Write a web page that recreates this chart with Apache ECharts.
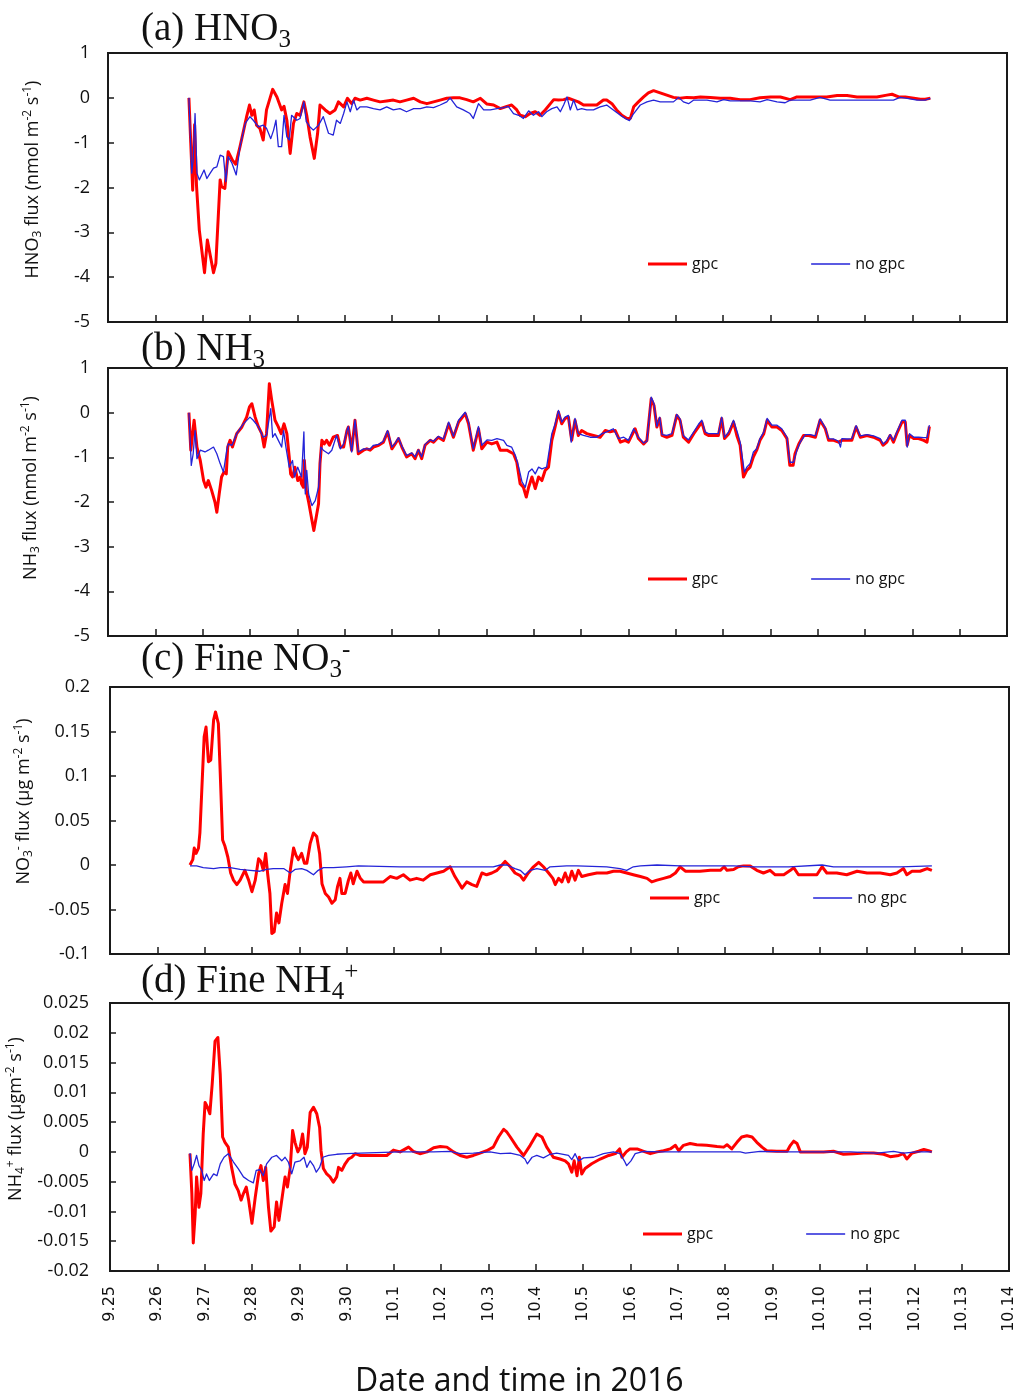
<!DOCTYPE html>
<html>
<head>
<meta charset="utf-8">
<script src="https://cdn.jsdelivr.net/npm/echarts@6/dist/echarts.min.js"></script>
<style>
  html, body { margin: 0; padding: 0; background: #ffffff; }
  #chart { width: 1023px; height: 1396px; }
</style>
</head>
<body>
<div id="chart"></div>
<script>
// Date tick labels; the x value of every point is days since 9.25 00:00
const dayTicks = ['9.25', '9.26', '9.27', '9.28', '9.29', '9.30', '10.1', '10.2', '10.3', '10.4',
  '10.5', '10.6', '10.7', '10.8', '10.9', '10.10', '10.11', '10.12', '10.13', '10.14'];

// (a) HNO3 flux, nmol m-2 s-1
const hno3Gpc = [[1.71,0],[1.79,-2.06],[1.83,-0.6],[1.87,-1.95],[1.93,-2.95],[2.04,-3.90],[2.10,-3.17],[2.23,-3.90],[2.28,-3.69],[2.37,-1.83],[2.40,-1.98],[2.47,-2.02],[2.54,-1.20],[2.63,-1.39],[2.70,-1.48],[2.79,-1.09],[2.93,-0.42],[2.99,-0.16],[3.04,-0.39],[3.09,-0.27],[3.14,-0.61],[3.21,-0.68],[3.28,-0.94],[3.35,-0.27],[3.48,0.19],[3.57,0.02],[3.67,-0.27],[3.72,-0.19],[3.78,-0.50],[3.85,-1.24],[3.92,-0.57],[3.99,-0.35],[4.06,-0.39],[4.14,-0.09],[4.20,-0.39],[4.27,-0.87],[4.36,-1.35],[4.43,-0.79],[4.48,-0.16],[4.59,-0.27],[4.69,-0.35],[4.80,-0.27],[4.87,-0.09],[4.98,-0.20],[5.06,-0.01],[5.15,-0.13],[5.22,-0.01],[5.33,-0.05],[5.47,-0.01],[5.61,-0.05],[5.75,-0.09],[5.89,-0.07],[6.03,-0.05],[6.17,-0.09],[6.31,-0.05],[6.46,-0.01],[6.60,-0.09],[6.74,-0.13],[6.88,-0.09],[7.02,-0.05],[7.16,-0.01],[7.30,0],[7.44,0],[7.58,-0.04],[7.72,-0.09],[7.87,-0.01],[8.01,-0.14],[8.15,-0.16],[8.29,-0.24],[8.43,-0.19],[8.53,-0.16],[8.64,-0.27],[8.71,-0.39],[8.82,-0.42],[8.92,-0.35],[9.03,-0.31],[9.13,-0.39],[9.24,-0.27],[9.35,-0.13],[9.42,-0.04],[9.52,-0.05],[9.63,-0.04],[9.73,-0.01],[9.84,-0.05],[9.94,-0.09],[10.05,-0.16],[10.19,-0.16],[10.33,-0.16],[10.47,-0.05],[10.54,-0.05],[10.65,-0.13],[10.75,-0.27],[10.86,-0.39],[10.97,-0.46],[11.04,-0.46],[11.11,-0.20],[11.21,-0.09],[11.32,0.02],[11.42,0.11],[11.53,0.16],[11.67,0.11],[11.81,0.06],[11.95,0.01],[12.09,-0.01],[12.23,0.01],[12.38,0],[12.52,0.02],[12.73,0.01],[12.94,-0.01],[13.15,-0.01],[13.36,-0.04],[13.57,-0.04],[13.78,0],[14.00,0.02],[14.21,0.02],[14.42,-0.04],[14.56,0.02],[14.77,0.02],[14.98,0.02],[15.19,0.02],[15.41,0.05],[15.62,0.05],[15.83,0.02],[16.04,0.02],[16.25,0.02],[16.46,0.06],[16.57,0.08],[16.71,0.02],[16.85,0.02],[17.03,-0.01],[17.17,-0.03],[17.27,-0.03],[17.38,-0.01]];
const hno3NoGpc = [[1.71,0],[1.77,-1.68],[1.80,-1.39],[1.84,-0.35],[1.88,-1.68],[1.93,-1.83],[1.98,-1.72],[2.03,-1.61],[2.09,-1.80],[2.16,-1.68],[2.23,-1.57],[2.30,-1.54],[2.37,-1.28],[2.44,-1.31],[2.49,-1.87],[2.54,-1.31],[2.62,-1.46],[2.71,-1.72],[2.79,-1.09],[2.90,-0.57],[3.00,-0.42],[3.07,-0.50],[3.18,-0.65],[3.28,-0.61],[3.35,-0.68],[3.44,-0.91],[3.50,-0.72],[3.55,-0.50],[3.60,-1.09],[3.67,-1.09],[3.72,-0.39],[3.78,-0.87],[3.83,-0.94],[3.88,-0.39],[3.99,-0.50],[4.06,-0.46],[4.14,-0.09],[4.19,-0.53],[4.27,-0.65],[4.34,-0.72],[4.45,-0.61],[4.55,-0.42],[4.66,-0.79],[4.76,-0.83],[4.83,-0.50],[4.91,-0.57],[4.98,-0.35],[5.05,-0.09],[5.12,-0.31],[5.19,-0.05],[5.26,-0.27],[5.33,-0.20],[5.47,-0.20],[5.61,-0.24],[5.75,-0.27],[5.89,-0.20],[6.03,-0.27],[6.17,-0.24],[6.31,-0.31],[6.46,-0.24],[6.60,-0.24],[6.74,-0.20],[6.88,-0.22],[7.02,-0.16],[7.16,-0.09],[7.23,0],[7.37,-0.20],[7.51,-0.27],[7.65,-0.35],[7.72,-0.46],[7.83,-0.13],[7.94,-0.27],[8.08,-0.27],[8.22,-0.24],[8.36,-0.22],[8.46,-0.19],[8.57,-0.35],[8.68,-0.39],[8.78,-0.46],[8.89,-0.29],[8.99,-0.39],[9.10,-0.31],[9.17,-0.42],[9.27,-0.31],[9.38,-0.24],[9.49,-0.20],[9.56,-0.31],[9.63,-0.16],[9.70,0.02],[9.77,-0.27],[9.84,-0.05],[9.92,-0.27],[10.01,-0.24],[10.12,-0.27],[10.26,-0.27],[10.40,-0.20],[10.54,-0.16],[10.68,-0.27],[10.83,-0.39],[10.93,-0.46],[11.02,-0.51],[11.11,-0.35],[11.25,-0.16],[11.39,-0.09],[11.53,-0.05],[11.67,-0.09],[11.81,-0.09],[11.95,-0.09],[12.06,0.01],[12.16,-0.09],[12.27,-0.13],[12.38,-0.05],[12.66,-0.05],[12.87,-0.09],[13.01,-0.04],[13.15,-0.07],[13.57,-0.07],[13.78,-0.09],[13.93,-0.04],[14.14,-0.09],[14.31,-0.11],[14.42,-0.05],[14.84,-0.05],[15.05,0.01],[15.26,-0.05],[16.04,-0.05],[16.60,-0.05],[16.74,0.01],[16.89,-0.01],[17.10,-0.05],[17.27,-0.05],[17.38,-0.01]];

// (b) NH3 flux, nmol m-2 s-1
const nh3Gpc = [[1.71,0],[1.75,-0.84],[1.82,-0.17],[1.88,-0.77],[1.95,-1.07],[2.02,-1.52],[2.07,-1.67],[2.12,-1.52],[2.19,-1.74],[2.26,-2.00],[2.30,-2.23],[2.35,-1.82],[2.40,-1.44],[2.45,-1.33],[2.50,-1.37],[2.53,-0.77],[2.58,-0.62],[2.63,-0.77],[2.72,-0.47],[2.83,-0.32],[2.93,-0.10],[2.99,0.13],[3.04,0.20],[3.11,-0.10],[3.18,-0.32],[3.25,-0.47],[3.30,-0.77],[3.35,-0.47],[3.41,0.65],[3.46,0.28],[3.53,-0.17],[3.60,-0.32],[3.66,-0.47],[3.72,-0.25],[3.78,-0.47],[3.83,-0.99],[3.86,-1.37],[3.90,-1.44],[3.95,-1.22],[4.01,-1.52],[4.06,-1.44],[4.09,-1.59],[4.13,-1.67],[4.15,-1.07],[4.19,-1.74],[4.24,-2.00],[4.31,-2.41],[4.35,-2.64],[4.40,-2.34],[4.45,-2.04],[4.48,-1.14],[4.52,-0.62],[4.57,-0.70],[4.62,-0.62],[4.68,-0.73],[4.76,-0.55],[4.85,-0.51],[4.91,-0.77],[4.98,-0.77],[5.05,-0.40],[5.08,-0.32],[5.15,-0.84],[5.22,-0.17],[5.29,-0.92],[5.40,-0.84],[5.47,-0.81],[5.54,-0.84],[5.61,-0.77],[5.72,-0.73],[5.82,-0.66],[5.91,-0.43],[6.00,-0.81],[6.07,-0.70],[6.14,-0.58],[6.21,-0.77],[6.31,-0.99],[6.42,-0.92],[6.49,-1.03],[6.56,-0.84],[6.63,-1.03],[6.70,-0.73],[6.81,-0.62],[6.88,-0.66],[6.98,-0.55],[7.09,-0.62],[7.20,-0.25],[7.30,-0.55],[7.41,-0.21],[7.55,-0.02],[7.62,-0.25],[7.72,-0.84],[7.83,-0.36],[7.90,-0.81],[8.01,-0.66],[8.11,-0.70],[8.22,-0.66],[8.29,-0.84],[8.43,-0.84],[8.57,-0.92],[8.64,-1.11],[8.71,-1.59],[8.78,-1.67],[8.84,-1.89],[8.89,-1.67],[8.96,-1.44],[9.03,-1.70],[9.10,-1.44],[9.17,-1.52],[9.24,-1.29],[9.31,-1.22],[9.38,-0.62],[9.45,-0.32],[9.52,0.01],[9.59,-0.25],[9.66,-0.13],[9.73,-0.10],[9.80,-0.62],[9.87,-0.17],[9.94,-0.51],[10.01,-0.40],[10.12,-0.47],[10.26,-0.51],[10.40,-0.55],[10.51,-0.40],[10.61,-0.43],[10.72,-0.40],[10.83,-0.66],[10.93,-0.62],[11.00,-0.66],[11.07,-0.51],[11.14,-0.36],[11.21,-0.58],[11.32,-0.70],[11.39,-0.62],[11.48,0.31],[11.54,0.16],[11.60,-0.32],[11.66,-0.13],[11.71,-0.51],[11.81,-0.55],[11.92,-0.51],[12.02,-0.06],[12.09,-0.17],[12.16,-0.55],[12.27,-0.66],[12.38,-0.47],[12.48,-0.32],[12.55,-0.21],[12.62,-0.47],[12.69,-0.51],[12.80,-0.51],[12.90,-0.51],[12.97,-0.13],[13.03,-0.58],[13.12,-0.47],[13.22,-0.21],[13.29,-0.51],[13.36,-0.73],[13.43,-1.44],[13.50,-1.29],[13.57,-1.22],[13.64,-0.99],[13.71,-0.84],[13.78,-0.62],[13.86,-0.47],[13.93,-0.17],[14.03,-0.32],[14.14,-0.32],[14.24,-0.40],[14.35,-0.58],[14.41,-1.18],[14.48,-1.18],[14.52,-0.92],[14.60,-0.70],[14.70,-0.51],[14.81,-0.51],[14.95,-0.55],[15.05,-0.17],[15.16,-0.36],[15.23,-0.62],[15.34,-0.62],[15.44,-0.66],[15.51,-0.62],[15.62,-0.62],[15.72,-0.62],[15.81,-0.32],[15.90,-0.55],[16.04,-0.51],[16.18,-0.55],[16.32,-0.62],[16.38,-0.73],[16.46,-0.66],[16.53,-0.51],[16.60,-0.66],[16.67,-0.47],[16.78,-0.21],[16.85,-0.21],[16.89,-0.73],[16.94,-0.51],[17.03,-0.58],[17.13,-0.58],[17.24,-0.62],[17.31,-0.66],[17.36,-0.31]];
const nh3NoGpc = [[1.71,0],[1.76,-1.18],[1.80,-0.92],[1.84,-0.40],[1.88,-1.03],[1.95,-0.84],[2.05,-0.88],[2.12,-0.84],[2.23,-0.77],[2.30,-0.92],[2.37,-1.14],[2.44,-1.33],[2.51,-0.84],[2.54,-0.70],[2.62,-0.73],[2.72,-0.47],[2.86,-0.25],[3.00,-0.10],[3.07,-0.17],[3.18,-0.32],[3.28,-0.55],[3.35,-0.51],[3.44,0.09],[3.48,-0.55],[3.53,-0.47],[3.60,-0.62],[3.67,-0.77],[3.71,-0.40],[3.76,-0.77],[3.83,-1.22],[3.90,-1.07],[3.94,-1.44],[4.01,-1.22],[4.09,-1.44],[4.14,-0.43],[4.17,-1.82],[4.20,-1.29],[4.24,-1.82],[4.31,-2.08],[4.38,-1.97],[4.45,-1.67],[4.50,-0.77],[4.55,-0.84],[4.66,-0.92],[4.73,-0.84],[4.83,-0.51],[4.91,-0.81],[4.98,-0.70],[5.05,-0.40],[5.08,-0.31],[5.15,-0.88],[5.22,-0.16],[5.29,-0.88],[5.40,-0.81],[5.54,-0.81],[5.61,-0.73],[5.72,-0.71],[5.82,-0.64],[5.91,-0.40],[6.00,-0.77],[6.07,-0.68],[6.14,-0.56],[6.21,-0.75],[6.31,-0.96],[6.42,-0.90],[6.49,-0.99],[6.56,-0.83],[6.63,-0.99],[6.70,-0.71],[6.81,-0.61],[6.88,-0.64],[6.98,-0.53],[7.09,-0.59],[7.20,-0.21],[7.30,-0.53],[7.41,-0.17],[7.55,0.01],[7.62,-0.21],[7.72,-0.81],[7.83,-0.31],[7.90,-0.73],[8.01,-0.61],[8.11,-0.62],[8.22,-0.58],[8.36,-0.62],[8.43,-0.73],[8.53,-0.77],[8.61,-0.96],[8.68,-1.22],[8.75,-1.55],[8.82,-1.67],[8.89,-1.33],[8.96,-1.26],[9.03,-1.37],[9.10,-1.22],[9.17,-1.26],[9.27,-1.22],[9.38,-0.47],[9.45,-0.25],[9.52,0.05],[9.59,-0.21],[9.66,-0.10],[9.73,-0.06],[9.79,-0.66],[9.87,-0.13],[9.94,-0.47],[10.05,-0.51],[10.19,-0.55],[10.33,-0.55],[10.44,-0.47],[10.54,-0.43],[10.68,-0.36],[10.79,-0.58],[10.90,-0.55],[11.00,-0.62],[11.11,-0.36],[11.21,-0.55],[11.32,-0.68],[11.39,-0.64],[11.48,0.35],[11.54,0.20],[11.60,-0.31],[11.66,-0.10],[11.71,-0.49],[11.81,-0.51],[11.92,-0.47],[12.02,-0.04],[12.09,-0.14],[12.16,-0.51],[12.27,-0.61],[12.38,-0.43],[12.48,-0.26],[12.55,-0.17],[12.62,-0.43],[12.69,-0.47],[12.80,-0.47],[12.90,-0.47],[12.97,-0.10],[13.03,-0.55],[13.12,-0.43],[13.22,-0.17],[13.31,-0.47],[13.36,-0.66],[13.45,-1.33],[13.50,-1.22],[13.57,-1.14],[13.64,-0.88],[13.71,-0.81],[13.78,-0.58],[13.86,-0.43],[13.93,-0.13],[14.03,-0.28],[14.14,-0.28],[14.24,-0.36],[14.35,-0.55],[14.41,-1.11],[14.49,-1.11],[14.56,-0.84],[14.63,-0.66],[14.74,-0.49],[14.84,-0.49],[14.95,-0.52],[15.05,-0.14],[15.16,-0.34],[15.23,-0.58],[15.34,-0.59],[15.44,-0.64],[15.48,-0.77],[15.51,-0.58],[15.62,-0.59],[15.72,-0.58],[15.81,-0.29],[15.90,-0.52],[16.04,-0.49],[16.18,-0.52],[16.32,-0.58],[16.38,-0.70],[16.46,-0.62],[16.53,-0.49],[16.60,-0.62],[16.67,-0.44],[16.78,-0.17],[16.85,-0.17],[16.89,-0.77],[16.94,-0.47],[17.03,-0.55],[17.13,-0.55],[17.24,-0.56],[17.31,-0.56],[17.36,-0.28]];

// (c) Fine NO3- flux, ug m-2 s-1
const no3Gpc = [[1.69,0],[1.75,0.006],[1.78,0.019],[1.82,0.013],[1.87,0.019],[1.90,0.036],[1.94,0.084],[1.99,0.144],[2.03,0.155],[2.08,0.116],[2.13,0.118],[2.19,0.163],[2.23,0.172],[2.29,0.159],[2.33,0.103],[2.38,0.028],[2.43,0.021],[2.49,0.009],[2.55,-0.009],[2.61,-0.017],[2.68,-0.022],[2.75,-0.017],[2.85,-0.006],[2.93,-0.017],[3.00,-0.030],[3.07,-0.017],[3.14,0.007],[3.19,0.004],[3.24,-0.006],[3.29,0.013],[3.33,-0.009],[3.38,-0.032],[3.42,-0.077],[3.47,-0.075],[3.52,-0.054],[3.57,-0.065],[3.63,-0.043],[3.70,-0.022],[3.75,-0.032],[3.81,-0.006],[3.88,0.019],[3.93,0.011],[3.98,0.006],[4.05,0.013],[4.11,0.002],[4.16,0.002],[4.23,0.024],[4.30,0.036],[4.37,0.032],[4.43,0.013],[4.48,-0.021],[4.55,-0.032],[4.62,-0.036],[4.69,-0.043],[4.76,-0.039],[4.81,-0.024],[4.86,-0.015],[4.90,-0.032],[4.97,-0.032],[5.04,-0.017],[5.09,-0.009],[5.14,-0.021],[5.22,-0.007],[5.29,-0.015],[5.36,-0.019],[5.50,-0.019],[5.64,-0.019],[5.78,-0.019],[5.92,-0.013],[6.06,-0.015],[6.20,-0.011],[6.34,-0.017],[6.48,-0.015],[6.62,-0.017],[6.77,-0.011],[6.91,-0.009],[7.05,-0.007],[7.19,-0.002],[7.29,-0.013],[7.44,-0.026],[7.54,-0.019],[7.65,-0.022],[7.75,-0.024],[7.86,-0.009],[7.96,-0.011],[8.07,-0.009],[8.18,-0.006],[8.25,-0.002],[8.35,0.004],[8.46,-0.002],[8.56,-0.009],[8.67,-0.012],[8.74,-0.017],[8.84,-0.009],[8.95,-0.002],[9.06,0.003],[9.16,-0.002],[9.27,-0.009],[9.36,-0.015],[9.41,-0.022],[9.48,-0.015],[9.55,-0.019],[9.62,-0.009],[9.69,-0.019],[9.76,-0.007],[9.83,-0.017],[9.90,-0.006],[9.97,-0.013],[10.11,-0.011],[10.29,-0.009],[10.50,-0.009],[10.64,-0.007],[10.78,-0.007],[10.92,-0.009],[11.06,-0.011],[11.21,-0.013],[11.35,-0.015],[11.45,-0.019],[11.56,-0.017],[11.70,-0.015],[11.84,-0.013],[11.95,-0.009],[12.05,-0.002],[12.16,-0.007],[12.30,-0.007],[12.47,-0.007],[12.69,-0.006],[12.90,-0.006],[12.98,-0.002],[13.04,-0.006],[13.18,-0.005],[13.28,-0.002],[13.39,-0.001],[13.53,-0.001],[13.67,-0.006],[13.81,-0.009],[13.95,-0.006],[14.06,-0.011],[14.24,-0.011],[14.38,-0.006],[14.45,-0.003],[14.55,-0.011],[14.73,-0.011],[14.94,-0.011],[15.05,-0.002],[15.15,-0.009],[15.36,-0.009],[15.57,-0.011],[15.79,-0.007],[16.00,-0.009],[16.28,-0.009],[16.49,-0.011],[16.63,-0.009],[16.77,-0.004],[16.84,-0.011],[16.95,-0.007],[17.12,-0.007],[17.27,-0.004],[17.37,-0.006]];
const no3NoGpc = [[1.69,-0.001],[1.83,-0.001],[1.97,-0.003],[2.19,-0.004],[2.33,-0.003],[2.54,-0.003],[2.75,-0.005],[2.96,-0.006],[3.17,-0.007],[3.31,-0.005],[3.45,-0.004],[3.67,-0.004],[3.81,-0.009],[3.91,-0.005],[4.05,-0.004],[4.16,-0.006],[4.30,-0.011],[4.40,-0.006],[4.51,-0.003],[4.72,-0.003],[5.00,-0.002],[5.25,-0.001],[6.13,-0.002],[7.19,-0.002],[8.10,-0.002],[8.25,0],[8.39,0],[8.56,-0.004],[8.67,-0.006],[8.77,-0.011],[8.88,-0.006],[9.02,-0.004],[9.20,-0.006],[9.30,-0.002],[9.65,-0.001],[9.87,-0.001],[10.50,-0.002],[10.78,-0.004],[10.92,-0.006],[11.06,-0.002],[11.21,-0.001],[11.56,0],[12.05,-0.001],[12.47,-0.001],[13.18,-0.001],[13.60,-0.002],[14.35,-0.002],[15.05,0],[15.29,-0.002],[16.70,-0.002],[17.37,-0.001]];

// (d) Fine NH4+ flux, ug m-2 s-1
const nh4Gpc = [[1.69,-0.0003],[1.73,-0.007],[1.76,-0.0153],[1.80,-0.0104],[1.83,-0.0042],[1.88,-0.0093],[1.92,-0.007],[1.97,0.003],[2.01,0.0083],[2.06,0.0075],[2.11,0.0064],[2.16,0.0114],[2.22,0.0186],[2.28,0.0192],[2.33,0.013],[2.38,0.0025],[2.43,0.0016],[2.50,0.0008],[2.57,-0.0026],[2.64,-0.0054],[2.71,-0.0065],[2.77,-0.0081],[2.82,-0.007],[2.88,-0.0059],[2.93,-0.0081],[3.00,-0.012],[3.07,-0.0076],[3.14,-0.0037],[3.19,-0.0023],[3.24,-0.0048],[3.29,-0.0026],[3.35,-0.0093],[3.40,-0.0133],[3.47,-0.0126],[3.52,-0.0084],[3.57,-0.0115],[3.63,-0.0081],[3.70,-0.0042],[3.75,-0.0059],[3.81,-0.0026],[3.86,0.0036],[3.91,0.0016],[3.97,0],[4.02,0.0008],[4.07,0.003],[4.12,-0.0003],[4.17,0.0008],[4.23,0.0066],[4.30,0.0075],[4.37,0.0064],[4.43,0.0041],[4.46,0.0002],[4.51,-0.0028],[4.58,-0.0037],[4.65,-0.0042],[4.72,-0.0051],[4.79,-0.0042],[4.83,-0.0026],[4.90,-0.0031],[4.97,-0.002],[5.04,-0.0012],[5.11,-0.0009],[5.18,-0.0003],[5.29,-0.0006],[5.43,-0.0006],[5.64,-0.0006],[5.85,-0.0006],[5.99,0.0003],[6.13,0],[6.31,0.0008],[6.41,0.0001],[6.55,-0.0003],[6.70,0],[6.84,0.0007],[6.98,0.0009],[7.12,0.0008],[7.26,0],[7.40,-0.0006],[7.54,-0.0009],[7.68,-0.0006],[7.82,-0.0002],[7.96,0.0002],[8.10,0.0008],[8.21,0.0025],[8.32,0.0038],[8.39,0.0033],[8.46,0.0025],[8.60,0.0008],[8.74,-0.0006],[8.88,0.0011],[9.02,0.003],[9.13,0.0025],[9.23,0.0008],[9.37,-0.0009],[9.51,-0.0012],[9.62,-0.0015],[9.69,-0.002],[9.76,-0.0034],[9.81,-0.0015],[9.87,-0.004],[9.92,-0.0009],[9.97,-0.0037],[10.04,-0.0028],[10.18,-0.002],[10.36,-0.0012],[10.54,-0.0006],[10.68,-0.0003],[10.77,0.0005],[10.82,-0.0009],[10.91,0],[10.99,0.0005],[11.14,0.0005],[11.28,0.0001],[11.42,-0.0003],[11.56,0],[11.70,0.0002],[11.84,0.0005],[11.95,0.0011],[12.02,0.0002],[12.12,0.0011],[12.26,0.0014],[12.40,0.0012],[12.61,0.0011],[12.83,0.0009],[12.97,0.0008],[13.04,0.0012],[13.14,0.0005],[13.25,0.0016],[13.35,0.0025],[13.46,0.0027],[13.57,0.0025],[13.67,0.0016],[13.78,0.0008],[13.88,0.0002],[14.09,0.0001],[14.31,0.0001],[14.38,0.0011],[14.45,0.0018],[14.52,0.0014],[14.59,0],[14.80,0],[15.08,0],[15.29,0.0001],[15.50,-0.0004],[15.72,-0.0003],[15.93,-0.0002],[16.14,-0.0002],[16.35,-0.0004],[16.49,-0.0008],[16.67,-0.0006],[16.77,-0.0003],[16.84,-0.0012],[16.95,-0.0002],[17.09,0.0001],[17.20,0.0004],[17.30,0.0002],[17.37,0]];
const nh4NoGpc = [[1.69,-0.0002],[1.73,-0.0031],[1.78,-0.002],[1.83,-0.0006],[1.88,-0.0023],[1.94,-0.0031],[1.99,-0.0048],[2.04,-0.0037],[2.10,-0.0048],[2.19,-0.0037],[2.26,-0.004],[2.33,-0.002],[2.41,-0.0009],[2.50,-0.0003],[2.61,-0.0017],[2.71,-0.0028],[2.82,-0.0042],[2.93,-0.0048],[3.03,-0.0052],[3.09,-0.0031],[3.17,-0.003],[3.24,-0.004],[3.31,-0.002],[3.42,-0.0009],[3.52,-0.0006],[3.63,-0.0015],[3.70,-0.0009],[3.77,-0.0017],[3.84,-0.0037],[3.91,-0.0017],[4.02,-0.0015],[4.10,-0.0009],[4.16,-0.0026],[4.23,-0.0015],[4.30,-0.0023],[4.36,-0.0034],[4.43,-0.0026],[4.50,-0.0009],[4.62,-0.0006],[4.79,-0.0004],[5.00,-0.0003],[5.29,-0.0002],[6.13,0],[6.84,0],[7.19,0.0001],[7.40,-0.0003],[7.68,-0.0002],[8.03,0],[8.25,-0.0003],[8.46,-0.0002],[8.67,-0.0006],[8.77,-0.0012],[8.82,-0.002],[8.92,-0.0009],[9.02,-0.0006],[9.16,-0.001],[9.30,-0.0004],[9.44,-0.0002],[9.58,-0.0004],[9.69,-0.0006],[9.76,-0.0013],[9.83,-0.0003],[9.90,-0.0015],[10.01,-0.001],[10.22,-0.0009],[10.43,-0.0003],[10.64,0],[10.78,-0.0003],[10.87,-0.0015],[10.92,-0.0023],[11.01,-0.0015],[11.10,-0.0003],[11.28,0.0001],[11.63,0],[12.19,0],[12.83,0],[13.32,0],[13.43,-0.0002],[13.74,0.0001],[14.31,0],[15.65,0],[16.21,-0.0002],[16.56,0.0001],[16.77,-0.0002],[17.05,0],[17.37,0]];

const SANS = '"Open Sans", "Noto Sans", sans-serif';
const SERIF = '"Liberation Serif", "DejaVu Serif", serif';
const DATE_FONT = '"DejaVu Sans", sans-serif';
const INK = '#111111';
const FRAME = '#1a1a1a';
const RED = '#ff0000';
const BLUE = '#2424d8';

// sub/superscript styles for rich text; the box height sets how far
// a script token sits from the top/bottom of the line
function scriptStyles(family, size, lineH, subH, supH) {
  return {
    s: { fontFamily: family, fontSize: size, color: INK, lineHeight: lineH, height: subH, verticalAlign: 'bottom' },
    p: { fontFamily: family, fontSize: size, color: INK, lineHeight: lineH, height: supH, verticalAlign: 'top' }
  };
}

const panels = [
  { grid: { left: 108, top: 53, width: 899, height: 269 }, min: -5, max: 1, interval: 1,
    gpc: hno3Gpc, noGpc: hno3NoGpc, title: '(a) HNO{s|3}', titleTop: 10,
    yName: 'HNO{s|3} flux (nmol m{p|-2} s{p|-1})', nameGap: 64, nameShift: 8, labelMargin: 18,
    legendLeft: 648, legendTop: 256 },
  { grid: { left: 108, top: 368, width: 899, height: 268 }, min: -5, max: 1, interval: 1,
    gpc: nh3Gpc, noGpc: nh3NoGpc, title: '(b) NH{s|3}', titleTop: 330,
    yName: 'NH{s|3} flux (nmol m{p|-2} s{p|-1})', nameGap: 66, nameShift: 14, labelMargin: 18,
    legendLeft: 648, legendTop: 571 },
  { grid: { left: 110, top: 687, width: 899, height: 267 }, min: -0.1, max: 0.2, interval: 0.05,
    gpc: no3Gpc, noGpc: no3NoGpc, title: '(c) Fine NO{s|3}{p|-}', titleTop: 640,
    yName: 'NO{s|3}{p|-} flux (\u00b5g m{p|-2} s{p|-1})', nameGap: 75, nameShift: 19, labelMargin: 20,
    legendLeft: 650, legendTop: 890 },
  { grid: { left: 110, top: 1003, width: 899, height: 268 }, min: -0.02, max: 0.025, interval: 0.005,
    gpc: nh4Gpc, noGpc: nh4NoGpc, title: '(d) Fine NH{s|4}{p|+}', titleTop: 962,
    yName: 'NH{s|4}{p|+} flux (\u00b5gm{p|-2} s{p|-1})', nameGap: 75, nameShift: 18, labelMargin: 21,
    legendLeft: 643, legendTop: 1226, dates: true }
];

const option = {
  backgroundColor: '#ffffff',
  animation: false,
  title: [],
  grid: [],
  xAxis: [],
  yAxis: [],
  legend: [],
  series: []
};

panels.forEach((p, i) => {
  option.grid.push(Object.assign({
    show: true, borderColor: FRAME, borderWidth: 2, backgroundColor: 'transparent',
    containLabel: false, outerBoundsMode: 'none'
  }, p.grid));

  option.title.push({
    text: p.title, left: 141, top: p.titleTop, padding: 0,
    textStyle: {
      fontFamily: SERIF, fontSize: 39, fontWeight: 'normal', color: INK, lineHeight: 40,
      rich: scriptStyles(SERIF, 25, 40, 20, 21)
    }
  });

  option.xAxis.push({
    type: 'value', gridIndex: i, min: 0, max: 19, interval: 1,
    axisLine: { show: true, onZero: false, lineStyle: { color: FRAME, width: 2 } },
    axisTick: { show: true, inside: true, length: 7, lineStyle: { color: FRAME, width: 1.5 } },
    axisLabel: p.dates ? {
      show: true, rotate: 90, margin: 15, fontFamily: DATE_FONT, fontSize: 16, color: INK,
      showMinLabel: true, showMaxLabel: true, hideOverlap: false,
      formatter: v => dayTicks[Math.round(v)] || ''
    } : { show: false },
    splitLine: { show: false }
  });

  option.yAxis.push({
    type: 'value', gridIndex: i, min: p.min, max: p.max, interval: p.interval,
    axisLine: { show: true, onZero: false, lineStyle: { color: FRAME, width: 2 } },
    axisTick: { show: true, inside: true, length: 6, lineStyle: { color: FRAME, width: 1.5 } },
    axisLabel: { margin: p.labelMargin, fontFamily: SANS, fontSize: 18, color: INK },
    splitLine: { show: false },
    name: p.yName, nameLocation: 'middle', nameGap: p.nameGap, nameRotate: 90,
    nameTextStyle: {
      fontFamily: SANS, fontSize: 18, color: INK, lineHeight: 22,
      padding: [0, 0, 0, 2 * p.nameShift],
      rich: scriptStyles(SANS, 12, 22, 12, 12)
    }
  });

  option.legend.push({
    left: p.legendLeft, top: p.legendTop, padding: 0, orient: 'horizontal',
    itemWidth: 39, itemHeight: 12, itemGap: 93, selectedMode: false,
    data: [
      { name: 'gpc', icon: 'path://M0,0H40V3.2H0Z' },
      { name: 'no gpc', icon: 'path://M0,0H40V1.3H0Z' }
    ],
    textStyle: { fontFamily: SANS, fontSize: 16, color: INK }
  });

  option.series.push({
    type: 'line', name: 'gpc', xAxisIndex: i, yAxisIndex: i, data: p.gpc,
    symbol: 'none', silent: true, z: 2,
    lineStyle: { color: RED, width: 3, join: 'round' }, itemStyle: { color: RED }
  });
  option.series.push({
    type: 'line', name: 'no gpc', xAxisIndex: i, yAxisIndex: i, data: p.noGpc,
    symbol: 'none', silent: true, z: 3,
    lineStyle: { color: BLUE, width: 1.3, join: 'round' }, itemStyle: { color: BLUE }
  });
});

option.title.push({
  text: 'Date and time in 2016', left: 355, top: 1364, padding: 0,
  textStyle: { fontFamily: SANS, fontSize: 32, fontWeight: 'normal', color: INK, lineHeight: 36 }
});

const chart = echarts.init(document.getElementById('chart'), null, { renderer: 'canvas' });
chart.setOption(option);
</script>
</body>
</html>
